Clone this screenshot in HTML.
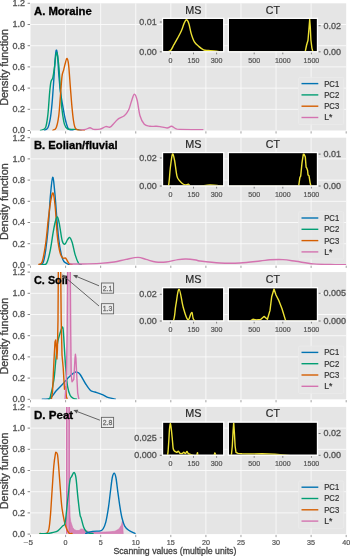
<!DOCTYPE html><html><head><meta charset="utf-8"><style>html,body{margin:0;padding:0;background:#fff;width:350px;height:556px;overflow:hidden;position:relative}</style></head><body><svg width="350" height="556" viewBox="0 0 350 556" style="position:absolute;left:0;top:0;font-family:'Liberation Sans', sans-serif;will-change:transform">
<rect x="0" y="0" width="350" height="556" fill="#ffffff"/>
<defs>
<clipPath id="cp0"><rect x="30.5" y="3.3" width="315.7" height="127.2"/></clipPath>
<clipPath id="ims0"><rect x="163.1" y="18.9" width="60.099999999999994" height="32.300000000000004"/></clipPath>
<clipPath id="ict0"><rect x="228.9" y="18.9" width="87.99999999999997" height="32.300000000000004"/></clipPath>
<clipPath id="cp1"><rect x="30.5" y="137.7" width="315.7" height="127.2"/></clipPath>
<clipPath id="ims1"><rect x="163.1" y="153.1" width="60.099999999999994" height="32.30000000000001"/></clipPath>
<clipPath id="ict1"><rect x="228.9" y="153.1" width="87.99999999999997" height="32.30000000000001"/></clipPath>
<clipPath id="cp2"><rect x="30.5" y="272.1" width="315.7" height="127.2"/></clipPath>
<clipPath id="ims2"><rect x="163.1" y="288.2" width="60.099999999999994" height="32.19999999999999"/></clipPath>
<clipPath id="ict2"><rect x="228.9" y="288.2" width="87.99999999999997" height="32.19999999999999"/></clipPath>
<clipPath id="cp3"><rect x="30.5" y="406.9" width="315.7" height="127.2"/></clipPath>
<clipPath id="ims3"><rect x="163.1" y="422.6" width="60.099999999999994" height="32.099999999999966"/></clipPath>
<clipPath id="ict3"><rect x="228.9" y="422.6" width="87.99999999999997" height="32.099999999999966"/></clipPath>
</defs>
<rect x="30.5" y="3.30" width="315.70" height="127.2" fill="#e5e5e5"/>
<line x1="30.5" x2="346.2" y1="109.30" y2="109.30" stroke="#fafafa" stroke-width="0.9"/>
<line x1="30.5" x2="346.2" y1="88.10" y2="88.10" stroke="#fafafa" stroke-width="0.9"/>
<line x1="30.5" x2="346.2" y1="66.90" y2="66.90" stroke="#fafafa" stroke-width="0.9"/>
<line x1="30.5" x2="346.2" y1="45.70" y2="45.70" stroke="#fafafa" stroke-width="0.9"/>
<line x1="30.5" x2="346.2" y1="24.50" y2="24.50" stroke="#fafafa" stroke-width="0.9"/>
<line x1="65.60" x2="65.60" y1="3.30" y2="130.50" stroke="#fafafa" stroke-width="0.9"/>
<line x1="100.67" x2="100.67" y1="3.30" y2="130.50" stroke="#fafafa" stroke-width="0.9"/>
<line x1="135.75" x2="135.75" y1="3.30" y2="130.50" stroke="#fafafa" stroke-width="0.9"/>
<line x1="170.82" x2="170.82" y1="3.30" y2="130.50" stroke="#fafafa" stroke-width="0.9"/>
<line x1="205.90" x2="205.90" y1="3.30" y2="130.50" stroke="#fafafa" stroke-width="0.9"/>
<line x1="240.97" x2="240.97" y1="3.30" y2="130.50" stroke="#fafafa" stroke-width="0.9"/>
<line x1="276.05" x2="276.05" y1="3.30" y2="130.50" stroke="#fafafa" stroke-width="0.9"/>
<line x1="311.12" x2="311.12" y1="3.30" y2="130.50" stroke="#fafafa" stroke-width="0.9"/>
<line x1="27.6" x2="30.0" y1="130.50" y2="130.50" stroke="#666666" stroke-width="0.8"/>
<text x="25.00" y="133.40" font-size="8.4" text-anchor="end" fill="#555555" font-weight="normal" stroke="#555555" stroke-width="0.3" textLength="12.56" lengthAdjust="spacingAndGlyphs">0.0</text>
<line x1="27.6" x2="30.0" y1="109.30" y2="109.30" stroke="#666666" stroke-width="0.8"/>
<text x="25.00" y="112.20" font-size="8.4" text-anchor="end" fill="#555555" font-weight="normal" stroke="#555555" stroke-width="0.3" textLength="12.56" lengthAdjust="spacingAndGlyphs">0.2</text>
<line x1="27.6" x2="30.0" y1="88.10" y2="88.10" stroke="#666666" stroke-width="0.8"/>
<text x="25.00" y="91.00" font-size="8.4" text-anchor="end" fill="#555555" font-weight="normal" stroke="#555555" stroke-width="0.3" textLength="12.56" lengthAdjust="spacingAndGlyphs">0.4</text>
<line x1="27.6" x2="30.0" y1="66.90" y2="66.90" stroke="#666666" stroke-width="0.8"/>
<text x="25.00" y="69.80" font-size="8.4" text-anchor="end" fill="#555555" font-weight="normal" stroke="#555555" stroke-width="0.3" textLength="12.56" lengthAdjust="spacingAndGlyphs">0.6</text>
<line x1="27.6" x2="30.0" y1="45.70" y2="45.70" stroke="#666666" stroke-width="0.8"/>
<text x="25.00" y="48.60" font-size="8.4" text-anchor="end" fill="#555555" font-weight="normal" stroke="#555555" stroke-width="0.3" textLength="12.56" lengthAdjust="spacingAndGlyphs">0.8</text>
<line x1="27.6" x2="30.0" y1="24.50" y2="24.50" stroke="#666666" stroke-width="0.8"/>
<text x="25.00" y="27.40" font-size="8.4" text-anchor="end" fill="#555555" font-weight="normal" stroke="#555555" stroke-width="0.3" textLength="12.56" lengthAdjust="spacingAndGlyphs">1.0</text>
<line x1="27.6" x2="30.0" y1="3.30" y2="3.30" stroke="#666666" stroke-width="0.8"/>
<text x="25.00" y="6.20" font-size="8.4" text-anchor="end" fill="#555555" font-weight="normal" stroke="#555555" stroke-width="0.3" textLength="12.56" lengthAdjust="spacingAndGlyphs">1.2</text>
<line x1="30.52" x2="30.52" y1="131.30" y2="133.50" stroke="#888888" stroke-width="0.8"/>
<line x1="65.60" x2="65.60" y1="131.30" y2="133.50" stroke="#888888" stroke-width="0.8"/>
<line x1="100.67" x2="100.67" y1="131.30" y2="133.50" stroke="#888888" stroke-width="0.8"/>
<line x1="135.75" x2="135.75" y1="131.30" y2="133.50" stroke="#888888" stroke-width="0.8"/>
<line x1="170.82" x2="170.82" y1="131.30" y2="133.50" stroke="#888888" stroke-width="0.8"/>
<line x1="205.90" x2="205.90" y1="131.30" y2="133.50" stroke="#888888" stroke-width="0.8"/>
<line x1="240.97" x2="240.97" y1="131.30" y2="133.50" stroke="#888888" stroke-width="0.8"/>
<line x1="276.05" x2="276.05" y1="131.30" y2="133.50" stroke="#888888" stroke-width="0.8"/>
<line x1="311.12" x2="311.12" y1="131.30" y2="133.50" stroke="#888888" stroke-width="0.8"/>
<line x1="346.20" x2="346.20" y1="131.30" y2="133.50" stroke="#888888" stroke-width="0.8"/>
<text x="0" y="0" font-size="11" text-anchor="middle" fill="#444444" stroke="#444444" stroke-width="0.35" transform="translate(7.7,67.30) rotate(-90)" textLength="76.8" lengthAdjust="spacingAndGlyphs">Density function</text>
<path d="M44.60,130.30 C45.15,129.87 46.93,129.78 47.90,127.70 C48.87,125.62 49.70,121.93 50.40,117.80 C51.10,113.67 51.55,108.97 52.10,102.90 C52.65,96.83 53.20,88.57 53.70,81.40 C54.20,74.23 54.68,65.08 55.10,59.90 C55.52,54.72 55.80,51.13 56.20,50.30 C56.60,49.47 57.08,51.10 57.50,54.90 C57.92,58.70 58.22,67.03 58.70,73.10 C59.18,79.17 59.72,85.78 60.40,91.30 C61.08,96.82 61.98,101.50 62.80,106.20 C63.62,110.90 64.47,115.92 65.30,119.50 C66.13,123.08 66.97,125.92 67.80,127.70 C68.63,129.48 69.43,129.77 70.30,130.20 C71.17,130.63 72.55,130.28 73.00,130.30" fill="none" stroke="#0173b2" stroke-width="1.4" stroke-linejoin="round" stroke-linecap="round" clip-path="url(#cp0)"/>
<path d="M40.50,130.30 C41.33,129.87 44.27,130.33 45.50,127.70 C46.73,125.07 47.22,120.28 47.90,114.50 C48.58,108.72 49.10,98.38 49.60,93.00 C50.10,87.62 50.35,84.82 50.90,82.20 C51.45,79.58 52.28,79.92 52.90,77.30 C53.52,74.68 54.00,70.65 54.60,66.50 C55.20,62.35 55.82,52.68 56.50,52.40 C57.18,52.12 58.05,58.58 58.70,64.80 C59.35,71.02 59.85,82.25 60.40,89.70 C60.95,97.15 61.32,103.72 62.00,109.50 C62.68,115.28 63.53,121.15 64.50,124.40 C65.47,127.65 65.87,128.17 67.80,129.00 C69.73,129.83 73.90,129.18 76.10,129.40 C78.30,129.62 80.18,130.15 81.00,130.30" fill="none" stroke="#029e73" stroke-width="1.4" stroke-linejoin="round" stroke-linecap="round" clip-path="url(#cp0)"/>
<path d="M52.90,130.30 C53.45,129.87 55.23,130.05 56.20,127.70 C57.17,125.35 58.00,121.43 58.70,116.20 C59.40,110.97 59.85,102.93 60.40,96.30 C60.95,89.67 61.45,80.82 62.00,76.40 C62.55,71.98 63.15,72.00 63.70,69.80 C64.25,67.60 64.75,65.08 65.30,63.20 C65.85,61.32 66.45,58.23 67.00,58.50 C67.55,58.77 68.05,60.15 68.60,64.80 C69.15,69.45 69.75,79.50 70.30,86.40 C70.85,93.30 71.38,100.60 71.90,106.20 C72.42,111.80 72.92,116.53 73.40,120.00 C73.88,123.47 74.23,125.38 74.80,127.00 C75.37,128.62 75.93,129.15 76.80,129.70 C77.67,130.25 78.73,130.17 80.00,130.30 C81.27,130.43 83.67,130.47 84.40,130.50" fill="none" stroke="#d55e00" stroke-width="1.4" stroke-linejoin="round" stroke-linecap="round" clip-path="url(#cp0)"/>
<path d="M80.00,130.10 C80.95,129.98 84.03,129.80 85.70,129.40 C87.37,129.00 88.67,127.70 90.00,127.70 C91.33,127.70 92.03,129.17 93.70,129.40 C95.37,129.63 98.00,129.57 100.00,129.10 C102.00,128.63 104.03,126.93 105.70,126.60 C107.37,126.27 108.57,127.72 110.00,127.10 C111.43,126.48 112.87,124.32 114.30,122.90 C115.73,121.48 116.93,119.80 118.60,118.60 C120.27,117.40 122.63,117.13 124.30,115.70 C125.97,114.27 127.42,112.38 128.60,110.00 C129.78,107.62 130.45,104.02 131.40,101.40 C132.35,98.78 133.35,94.53 134.30,94.30 C135.25,94.07 136.15,96.43 137.10,100.00 C138.05,103.57 138.80,111.65 140.00,115.70 C141.20,119.75 142.63,122.53 144.30,124.30 C145.97,126.07 148.10,125.97 150.00,126.30 C151.90,126.63 154.03,126.25 155.70,126.30 C157.37,126.35 158.10,126.32 160.00,126.60 C161.90,126.88 165.20,128.05 167.10,128.00 C169.00,127.95 169.97,126.20 171.40,126.30 C172.83,126.40 174.27,128.08 175.70,128.60 C177.13,129.12 175.47,129.23 180.00,129.40 C184.53,129.57 199.08,129.57 202.90,129.60" fill="none" stroke="#d473b0" stroke-width="1.4" stroke-linejoin="round" stroke-linecap="round" clip-path="url(#cp0)"/>
<text x="34.00" y="15.20" font-size="10.2" text-anchor="start" fill="#000000" font-weight="bold" stroke="#000000" stroke-width="0.3" textLength="57.80" lengthAdjust="spacingAndGlyphs">A. Moraine</text>
<rect x="298.5" y="77.30" width="45.3" height="47.4" rx="1.5" fill="#e6e6e6" fill-opacity="0.85" stroke="#ededed" stroke-width="0.7"/>
<line x1="301.5" x2="318.3" y1="83.60" y2="83.60" stroke="#0173b2" stroke-width="1.4"/>
<text x="324.20" y="86.50" font-size="8.2" text-anchor="start" fill="#333333" font-weight="normal" stroke="#333333" stroke-width="0.2" textLength="15.00" lengthAdjust="spacingAndGlyphs">PC1</text>
<line x1="301.5" x2="318.3" y1="94.90" y2="94.90" stroke="#029e73" stroke-width="1.4"/>
<text x="324.20" y="97.80" font-size="8.2" text-anchor="start" fill="#333333" font-weight="normal" stroke="#333333" stroke-width="0.2" textLength="15.00" lengthAdjust="spacingAndGlyphs">PC2</text>
<line x1="301.5" x2="318.3" y1="106.20" y2="106.20" stroke="#d55e00" stroke-width="1.4"/>
<text x="324.20" y="109.10" font-size="8.2" text-anchor="start" fill="#333333" font-weight="normal" stroke="#333333" stroke-width="0.2" textLength="15.00" lengthAdjust="spacingAndGlyphs">PC3</text>
<line x1="301.5" x2="318.3" y1="117.50" y2="117.50" stroke="#d473b0" stroke-width="1.4"/>
<text x="324.20" y="120.40" font-size="8.2" text-anchor="start" fill="#333333" font-weight="normal" stroke="#333333" stroke-width="0.2" textLength="8.20" lengthAdjust="spacingAndGlyphs">L*</text>
<rect x="163.10" y="18.90" width="60.10" height="32.30" fill="#000000"/>
<rect x="228.90" y="18.90" width="88.00" height="32.30" fill="#000000"/>
<path d="M164.00,52.20 C165.03,51.98 168.55,52.15 170.20,50.90 C171.85,49.65 172.67,46.82 173.90,44.70 C175.13,42.58 176.35,40.52 177.60,38.20 C178.85,35.88 180.32,33.27 181.40,30.80 C182.48,28.33 183.27,25.23 184.10,23.40 C184.93,21.57 185.62,19.80 186.40,19.80 C187.18,19.80 188.00,21.10 188.80,23.40 C189.60,25.70 190.27,30.52 191.20,33.60 C192.13,36.68 193.10,39.73 194.40,41.90 C195.70,44.07 197.47,45.27 199.00,46.60 C200.53,47.93 202.05,49.25 203.60,49.90 C205.15,50.55 206.58,50.33 208.30,50.50 C210.02,50.67 211.62,50.62 213.90,50.90 C216.18,51.18 220.65,51.98 222.00,52.20" fill="none" stroke="#ece133" stroke-width="1.4" stroke-linejoin="round" stroke-linecap="round" clip-path="url(#ims0)"/>
<polyline points="229.00,52.20 304.00,52.20 305.10,52.20 306.60,45.00 308.00,40.20 309.10,27.00 309.70,19.50 310.30,27.00 310.90,40.00 311.90,48.10 313.00,52.20 314.00,52.20 317.00,52.20" fill="none" stroke="#ece133" stroke-width="1.4" stroke-linejoin="round" clip-path="url(#ict0)"/>
<rect x="162.50" y="18.30" width="61.30" height="33.50" fill="none" stroke="#ffffff" stroke-width="1.2"/>
<rect x="228.30" y="18.30" width="89.20" height="33.50" fill="none" stroke="#ffffff" stroke-width="1.2"/>
<text x="193.40" y="13.60" font-size="11.4" text-anchor="middle" fill="#262626" font-weight="normal" stroke="#262626" stroke-width="0.2" textLength="16.20" lengthAdjust="spacingAndGlyphs">MS</text>
<text x="272.90" y="13.60" font-size="11.4" text-anchor="middle" fill="#262626" font-weight="normal" stroke="#262626" stroke-width="0.2" textLength="14.10" lengthAdjust="spacingAndGlyphs">CT</text>
<line x1="159.8" x2="161.8" y1="22.00" y2="22.00" stroke="#555555" stroke-width="0.8"/>
<text x="156.80" y="24.90" font-size="8.4" text-anchor="end" fill="#555555" font-weight="normal" stroke="#555555" stroke-width="0.3" textLength="17.57" lengthAdjust="spacingAndGlyphs">0.01</text>
<line x1="159.8" x2="161.8" y1="51.80" y2="51.80" stroke="#555555" stroke-width="0.8"/>
<text x="156.80" y="54.70" font-size="8.4" text-anchor="end" fill="#555555" font-weight="normal" stroke="#555555" stroke-width="0.3" textLength="17.57" lengthAdjust="spacingAndGlyphs">0.00</text>
<line x1="318.6" x2="320.6" y1="25.70" y2="25.70" stroke="#555555" stroke-width="0.8"/>
<text x="323.50" y="28.60" font-size="8.4" text-anchor="start" fill="#555555" font-weight="normal" stroke="#555555" stroke-width="0.3" textLength="17.57" lengthAdjust="spacingAndGlyphs">0.02</text>
<line x1="318.6" x2="320.6" y1="51.80" y2="51.80" stroke="#555555" stroke-width="0.8"/>
<text x="323.50" y="54.70" font-size="8.4" text-anchor="start" fill="#555555" font-weight="normal" stroke="#555555" stroke-width="0.3" textLength="17.57" lengthAdjust="spacingAndGlyphs">0.00</text>
<line x1="170.40" x2="170.40" y1="52.60" y2="54.30" stroke="#555555" stroke-width="0.7"/>
<text x="170.40" y="62.90" font-size="6.6" text-anchor="middle" fill="#555555" font-weight="normal" stroke="#555555" stroke-width="0.2" textLength="3.94" lengthAdjust="spacingAndGlyphs">0</text>
<line x1="193.50" x2="193.50" y1="52.60" y2="54.30" stroke="#555555" stroke-width="0.7"/>
<text x="193.50" y="62.90" font-size="6.6" text-anchor="middle" fill="#555555" font-weight="normal" stroke="#555555" stroke-width="0.2" textLength="11.82" lengthAdjust="spacingAndGlyphs">150</text>
<line x1="216.60" x2="216.60" y1="52.60" y2="54.30" stroke="#555555" stroke-width="0.7"/>
<text x="216.60" y="62.90" font-size="6.6" text-anchor="middle" fill="#555555" font-weight="normal" stroke="#555555" stroke-width="0.2" textLength="11.82" lengthAdjust="spacingAndGlyphs">300</text>
<line x1="254.20" x2="254.20" y1="52.60" y2="54.30" stroke="#555555" stroke-width="0.7"/>
<text x="254.20" y="62.90" font-size="6.6" text-anchor="middle" fill="#555555" font-weight="normal" stroke="#555555" stroke-width="0.2" textLength="11.82" lengthAdjust="spacingAndGlyphs">500</text>
<line x1="282.80" x2="282.80" y1="52.60" y2="54.30" stroke="#555555" stroke-width="0.7"/>
<text x="282.80" y="62.90" font-size="6.6" text-anchor="middle" fill="#555555" font-weight="normal" stroke="#555555" stroke-width="0.2" textLength="15.76" lengthAdjust="spacingAndGlyphs">1000</text>
<line x1="311.40" x2="311.40" y1="52.60" y2="54.30" stroke="#555555" stroke-width="0.7"/>
<text x="311.40" y="62.90" font-size="6.6" text-anchor="middle" fill="#555555" font-weight="normal" stroke="#555555" stroke-width="0.2" textLength="15.76" lengthAdjust="spacingAndGlyphs">1500</text>
<rect x="30.5" y="137.70" width="315.70" height="127.2" fill="#e5e5e5"/>
<line x1="30.5" x2="346.2" y1="243.70" y2="243.70" stroke="#fafafa" stroke-width="0.9"/>
<line x1="30.5" x2="346.2" y1="222.50" y2="222.50" stroke="#fafafa" stroke-width="0.9"/>
<line x1="30.5" x2="346.2" y1="201.30" y2="201.30" stroke="#fafafa" stroke-width="0.9"/>
<line x1="30.5" x2="346.2" y1="180.10" y2="180.10" stroke="#fafafa" stroke-width="0.9"/>
<line x1="30.5" x2="346.2" y1="158.90" y2="158.90" stroke="#fafafa" stroke-width="0.9"/>
<line x1="65.60" x2="65.60" y1="137.70" y2="264.90" stroke="#fafafa" stroke-width="0.9"/>
<line x1="100.67" x2="100.67" y1="137.70" y2="264.90" stroke="#fafafa" stroke-width="0.9"/>
<line x1="135.75" x2="135.75" y1="137.70" y2="264.90" stroke="#fafafa" stroke-width="0.9"/>
<line x1="170.82" x2="170.82" y1="137.70" y2="264.90" stroke="#fafafa" stroke-width="0.9"/>
<line x1="205.90" x2="205.90" y1="137.70" y2="264.90" stroke="#fafafa" stroke-width="0.9"/>
<line x1="240.97" x2="240.97" y1="137.70" y2="264.90" stroke="#fafafa" stroke-width="0.9"/>
<line x1="276.05" x2="276.05" y1="137.70" y2="264.90" stroke="#fafafa" stroke-width="0.9"/>
<line x1="311.12" x2="311.12" y1="137.70" y2="264.90" stroke="#fafafa" stroke-width="0.9"/>
<line x1="27.6" x2="30.0" y1="264.90" y2="264.90" stroke="#666666" stroke-width="0.8"/>
<text x="25.00" y="267.80" font-size="8.4" text-anchor="end" fill="#555555" font-weight="normal" stroke="#555555" stroke-width="0.3" textLength="12.56" lengthAdjust="spacingAndGlyphs">0.0</text>
<line x1="27.6" x2="30.0" y1="243.70" y2="243.70" stroke="#666666" stroke-width="0.8"/>
<text x="25.00" y="246.60" font-size="8.4" text-anchor="end" fill="#555555" font-weight="normal" stroke="#555555" stroke-width="0.3" textLength="12.56" lengthAdjust="spacingAndGlyphs">0.2</text>
<line x1="27.6" x2="30.0" y1="222.50" y2="222.50" stroke="#666666" stroke-width="0.8"/>
<text x="25.00" y="225.40" font-size="8.4" text-anchor="end" fill="#555555" font-weight="normal" stroke="#555555" stroke-width="0.3" textLength="12.56" lengthAdjust="spacingAndGlyphs">0.4</text>
<line x1="27.6" x2="30.0" y1="201.30" y2="201.30" stroke="#666666" stroke-width="0.8"/>
<text x="25.00" y="204.20" font-size="8.4" text-anchor="end" fill="#555555" font-weight="normal" stroke="#555555" stroke-width="0.3" textLength="12.56" lengthAdjust="spacingAndGlyphs">0.6</text>
<line x1="27.6" x2="30.0" y1="180.10" y2="180.10" stroke="#666666" stroke-width="0.8"/>
<text x="25.00" y="183.00" font-size="8.4" text-anchor="end" fill="#555555" font-weight="normal" stroke="#555555" stroke-width="0.3" textLength="12.56" lengthAdjust="spacingAndGlyphs">0.8</text>
<line x1="27.6" x2="30.0" y1="158.90" y2="158.90" stroke="#666666" stroke-width="0.8"/>
<text x="25.00" y="161.80" font-size="8.4" text-anchor="end" fill="#555555" font-weight="normal" stroke="#555555" stroke-width="0.3" textLength="12.56" lengthAdjust="spacingAndGlyphs">1.0</text>
<line x1="27.6" x2="30.0" y1="137.70" y2="137.70" stroke="#666666" stroke-width="0.8"/>
<text x="25.00" y="140.60" font-size="8.4" text-anchor="end" fill="#555555" font-weight="normal" stroke="#555555" stroke-width="0.3" textLength="12.56" lengthAdjust="spacingAndGlyphs">1.2</text>
<line x1="30.52" x2="30.52" y1="265.70" y2="267.90" stroke="#888888" stroke-width="0.8"/>
<line x1="65.60" x2="65.60" y1="265.70" y2="267.90" stroke="#888888" stroke-width="0.8"/>
<line x1="100.67" x2="100.67" y1="265.70" y2="267.90" stroke="#888888" stroke-width="0.8"/>
<line x1="135.75" x2="135.75" y1="265.70" y2="267.90" stroke="#888888" stroke-width="0.8"/>
<line x1="170.82" x2="170.82" y1="265.70" y2="267.90" stroke="#888888" stroke-width="0.8"/>
<line x1="205.90" x2="205.90" y1="265.70" y2="267.90" stroke="#888888" stroke-width="0.8"/>
<line x1="240.97" x2="240.97" y1="265.70" y2="267.90" stroke="#888888" stroke-width="0.8"/>
<line x1="276.05" x2="276.05" y1="265.70" y2="267.90" stroke="#888888" stroke-width="0.8"/>
<line x1="311.12" x2="311.12" y1="265.70" y2="267.90" stroke="#888888" stroke-width="0.8"/>
<line x1="346.20" x2="346.20" y1="265.70" y2="267.90" stroke="#888888" stroke-width="0.8"/>
<text x="0" y="0" font-size="11" text-anchor="middle" fill="#444444" stroke="#444444" stroke-width="0.35" transform="translate(7.7,201.70) rotate(-90)" textLength="76.8" lengthAdjust="spacingAndGlyphs">Density function</text>
<path d="M39.70,264.70 C40.28,264.32 42.18,264.95 43.20,262.40 C44.22,259.85 44.93,255.58 45.80,249.40 C46.67,243.22 47.63,234.22 48.40,225.30 C49.17,216.38 49.68,203.90 50.40,195.90 C51.12,187.90 51.97,177.87 52.70,177.30 C53.43,176.73 54.13,185.95 54.80,192.50 C55.47,199.05 56.05,208.83 56.70,216.60 C57.35,224.37 57.93,232.77 58.70,239.10 C59.47,245.43 60.43,250.87 61.30,254.60 C62.17,258.33 62.75,259.92 63.90,261.50 C65.05,263.08 67.02,263.58 68.20,264.10 C69.38,264.62 70.53,264.52 71.00,264.60" fill="none" stroke="#0173b2" stroke-width="1.4" stroke-linejoin="round" stroke-linecap="round" clip-path="url(#cp1)"/>
<path d="M38.90,264.30 C39.47,263.83 41.15,265.13 42.30,261.50 C43.45,257.87 44.78,249.68 45.80,242.50 C46.82,235.32 47.53,225.58 48.40,218.40 C49.27,211.22 50.20,203.58 51.00,199.40 C51.80,195.22 52.48,191.87 53.20,193.30 C53.92,194.73 54.62,200.95 55.30,208.00 C55.98,215.05 56.50,228.12 57.30,235.60 C58.10,243.08 59.15,249.15 60.10,252.90 C61.05,256.65 62.08,257.23 63.00,258.10 C63.92,258.97 64.73,257.38 65.60,258.10 C66.47,258.82 67.47,261.40 68.20,262.40 C68.93,263.40 69.37,263.73 70.00,264.10 C70.63,264.47 71.67,264.52 72.00,264.60" fill="none" stroke="#d55e00" stroke-width="1.4" stroke-linejoin="round" stroke-linecap="round" clip-path="url(#cp1)"/>
<path d="M42.30,264.70 C43.02,264.47 45.30,265.55 46.60,263.30 C47.90,261.05 49.00,256.38 50.10,251.20 C51.20,246.02 52.33,237.10 53.20,232.20 C54.07,227.30 54.58,224.33 55.30,221.80 C56.02,219.27 56.78,216.42 57.50,217.00 C58.22,217.58 58.82,221.33 59.60,225.30 C60.38,229.27 61.33,237.63 62.20,240.80 C63.07,243.97 63.93,244.45 64.80,244.30 C65.67,244.15 66.60,241.05 67.40,239.90 C68.20,238.75 68.80,236.97 69.60,237.40 C70.40,237.83 71.28,239.63 72.20,242.50 C73.12,245.37 74.03,251.13 75.10,254.60 C76.17,258.07 77.58,261.62 78.60,263.30 C79.62,264.98 80.77,264.47 81.20,264.70" fill="none" stroke="#029e73" stroke-width="1.4" stroke-linejoin="round" stroke-linecap="round" clip-path="url(#cp1)"/>
<path d="M70.00,264.00 C72.00,264.00 77.00,264.10 82.00,264.00 C87.00,263.90 94.67,263.73 100.00,263.40 C105.33,263.07 109.67,262.67 114.00,262.00 C118.33,261.33 122.00,260.17 126.00,259.40 C130.00,258.63 134.67,257.40 138.00,257.40 C141.33,257.40 143.00,258.63 146.00,259.40 C149.00,260.17 152.67,261.57 156.00,262.00 C159.33,262.43 162.33,262.40 166.00,262.00 C169.67,261.60 174.67,260.10 178.00,259.60 C181.33,259.10 183.00,258.93 186.00,259.00 C189.00,259.07 193.67,259.67 196.00,260.00 C198.33,260.33 196.00,260.50 200.00,261.00 C204.00,261.50 213.33,262.67 220.00,263.00 C226.67,263.33 233.33,263.33 240.00,263.00 C246.67,262.67 255.00,261.53 260.00,261.00 C265.00,260.47 266.17,260.03 270.00,259.80 C273.83,259.57 278.67,259.35 283.00,259.60 C287.33,259.85 290.92,260.58 296.00,261.30 C301.08,262.02 307.00,263.35 313.50,263.90 C320.00,264.45 329.58,264.47 335.00,264.60 C340.42,264.73 344.17,264.68 346.00,264.70" fill="none" stroke="#d473b0" stroke-width="1.4" stroke-linejoin="round" stroke-linecap="round" clip-path="url(#cp1)"/>
<text x="34.00" y="149.30" font-size="10.2" text-anchor="start" fill="#000000" font-weight="bold" stroke="#000000" stroke-width="0.3" textLength="83.60" lengthAdjust="spacingAndGlyphs">B. Eolian/fluvial</text>
<rect x="298.5" y="211.70" width="45.3" height="47.4" rx="1.5" fill="#e6e6e6" fill-opacity="0.85" stroke="#ededed" stroke-width="0.7"/>
<line x1="301.5" x2="318.3" y1="218.00" y2="218.00" stroke="#0173b2" stroke-width="1.4"/>
<text x="324.20" y="220.90" font-size="8.2" text-anchor="start" fill="#333333" font-weight="normal" stroke="#333333" stroke-width="0.2" textLength="15.00" lengthAdjust="spacingAndGlyphs">PC1</text>
<line x1="301.5" x2="318.3" y1="229.30" y2="229.30" stroke="#029e73" stroke-width="1.4"/>
<text x="324.20" y="232.20" font-size="8.2" text-anchor="start" fill="#333333" font-weight="normal" stroke="#333333" stroke-width="0.2" textLength="15.00" lengthAdjust="spacingAndGlyphs">PC2</text>
<line x1="301.5" x2="318.3" y1="240.60" y2="240.60" stroke="#d55e00" stroke-width="1.4"/>
<text x="324.20" y="243.50" font-size="8.2" text-anchor="start" fill="#333333" font-weight="normal" stroke="#333333" stroke-width="0.2" textLength="15.00" lengthAdjust="spacingAndGlyphs">PC3</text>
<line x1="301.5" x2="318.3" y1="251.90" y2="251.90" stroke="#d473b0" stroke-width="1.4"/>
<text x="324.20" y="254.80" font-size="8.2" text-anchor="start" fill="#333333" font-weight="normal" stroke="#333333" stroke-width="0.2" textLength="8.20" lengthAdjust="spacingAndGlyphs">L*</text>
<rect x="163.10" y="153.10" width="60.10" height="32.30" fill="#000000"/>
<rect x="228.90" y="153.10" width="88.00" height="32.30" fill="#000000"/>
<path d="M164.00,186.40 C164.72,186.40 167.25,189.47 168.30,186.40 C169.35,183.33 169.62,173.35 170.30,168.00 C170.98,162.65 171.70,155.63 172.40,154.30 C173.10,152.97 173.75,156.42 174.50,160.00 C175.25,163.58 176.10,172.40 176.90,175.80 C177.70,179.20 178.40,179.12 179.30,180.40 C180.20,181.68 181.28,182.75 182.30,183.50 C183.32,184.25 184.37,184.78 185.40,184.90 C186.43,185.02 187.57,183.95 188.50,184.20 C189.43,184.45 189.08,186.03 191.00,186.40 C192.92,186.77 196.83,186.63 200.00,186.40 C203.17,186.17 206.17,185.00 210.00,185.00 C213.83,185.00 220.83,186.17 223.00,186.40" fill="none" stroke="#ece133" stroke-width="1.4" stroke-linejoin="round" stroke-linecap="round" clip-path="url(#ims1)"/>
<polyline points="229.00,186.40 298.60,186.40 299.90,177.40 300.70,176.10 302.00,162.90 303.30,154.30 304.10,154.30 305.30,156.90 306.10,167.10 306.70,168.00 307.60,170.60 308.00,174.90 309.00,175.70 310.10,182.60 311.00,186.40 317.00,186.40" fill="none" stroke="#ece133" stroke-width="1.4" stroke-linejoin="round" clip-path="url(#ict1)"/>
<rect x="162.50" y="152.50" width="61.30" height="33.50" fill="none" stroke="#ffffff" stroke-width="1.2"/>
<rect x="228.30" y="152.50" width="89.20" height="33.50" fill="none" stroke="#ffffff" stroke-width="1.2"/>
<text x="193.40" y="147.80" font-size="11.4" text-anchor="middle" fill="#262626" font-weight="normal" stroke="#262626" stroke-width="0.2" textLength="16.20" lengthAdjust="spacingAndGlyphs">MS</text>
<text x="272.90" y="147.80" font-size="11.4" text-anchor="middle" fill="#262626" font-weight="normal" stroke="#262626" stroke-width="0.2" textLength="14.10" lengthAdjust="spacingAndGlyphs">CT</text>
<line x1="159.8" x2="161.8" y1="158.00" y2="158.00" stroke="#555555" stroke-width="0.8"/>
<text x="156.80" y="160.90" font-size="8.4" text-anchor="end" fill="#555555" font-weight="normal" stroke="#555555" stroke-width="0.3" textLength="17.57" lengthAdjust="spacingAndGlyphs">0.02</text>
<line x1="159.8" x2="161.8" y1="186.00" y2="186.00" stroke="#555555" stroke-width="0.8"/>
<text x="156.80" y="188.90" font-size="8.4" text-anchor="end" fill="#555555" font-weight="normal" stroke="#555555" stroke-width="0.3" textLength="17.57" lengthAdjust="spacingAndGlyphs">0.00</text>
<line x1="318.6" x2="320.6" y1="154.10" y2="154.10" stroke="#555555" stroke-width="0.8"/>
<text x="323.50" y="157.00" font-size="8.4" text-anchor="start" fill="#555555" font-weight="normal" stroke="#555555" stroke-width="0.3" textLength="17.57" lengthAdjust="spacingAndGlyphs">0.01</text>
<line x1="318.6" x2="320.6" y1="186.00" y2="186.00" stroke="#555555" stroke-width="0.8"/>
<text x="323.50" y="188.90" font-size="8.4" text-anchor="start" fill="#555555" font-weight="normal" stroke="#555555" stroke-width="0.3" textLength="17.57" lengthAdjust="spacingAndGlyphs">0.00</text>
<line x1="170.40" x2="170.40" y1="186.80" y2="188.50" stroke="#555555" stroke-width="0.7"/>
<text x="170.40" y="197.10" font-size="6.6" text-anchor="middle" fill="#555555" font-weight="normal" stroke="#555555" stroke-width="0.2" textLength="3.94" lengthAdjust="spacingAndGlyphs">0</text>
<line x1="193.50" x2="193.50" y1="186.80" y2="188.50" stroke="#555555" stroke-width="0.7"/>
<text x="193.50" y="197.10" font-size="6.6" text-anchor="middle" fill="#555555" font-weight="normal" stroke="#555555" stroke-width="0.2" textLength="11.82" lengthAdjust="spacingAndGlyphs">150</text>
<line x1="216.60" x2="216.60" y1="186.80" y2="188.50" stroke="#555555" stroke-width="0.7"/>
<text x="216.60" y="197.10" font-size="6.6" text-anchor="middle" fill="#555555" font-weight="normal" stroke="#555555" stroke-width="0.2" textLength="11.82" lengthAdjust="spacingAndGlyphs">300</text>
<line x1="254.20" x2="254.20" y1="186.80" y2="188.50" stroke="#555555" stroke-width="0.7"/>
<text x="254.20" y="197.10" font-size="6.6" text-anchor="middle" fill="#555555" font-weight="normal" stroke="#555555" stroke-width="0.2" textLength="11.82" lengthAdjust="spacingAndGlyphs">500</text>
<line x1="282.80" x2="282.80" y1="186.80" y2="188.50" stroke="#555555" stroke-width="0.7"/>
<text x="282.80" y="197.10" font-size="6.6" text-anchor="middle" fill="#555555" font-weight="normal" stroke="#555555" stroke-width="0.2" textLength="15.76" lengthAdjust="spacingAndGlyphs">1000</text>
<line x1="311.40" x2="311.40" y1="186.80" y2="188.50" stroke="#555555" stroke-width="0.7"/>
<text x="311.40" y="197.10" font-size="6.6" text-anchor="middle" fill="#555555" font-weight="normal" stroke="#555555" stroke-width="0.2" textLength="15.76" lengthAdjust="spacingAndGlyphs">1500</text>
<rect x="30.5" y="272.10" width="315.70" height="127.2" fill="#e5e5e5"/>
<line x1="30.5" x2="346.2" y1="378.10" y2="378.10" stroke="#fafafa" stroke-width="0.9"/>
<line x1="30.5" x2="346.2" y1="356.90" y2="356.90" stroke="#fafafa" stroke-width="0.9"/>
<line x1="30.5" x2="346.2" y1="335.70" y2="335.70" stroke="#fafafa" stroke-width="0.9"/>
<line x1="30.5" x2="346.2" y1="314.50" y2="314.50" stroke="#fafafa" stroke-width="0.9"/>
<line x1="30.5" x2="346.2" y1="293.30" y2="293.30" stroke="#fafafa" stroke-width="0.9"/>
<line x1="65.60" x2="65.60" y1="272.10" y2="399.30" stroke="#fafafa" stroke-width="0.9"/>
<line x1="100.67" x2="100.67" y1="272.10" y2="399.30" stroke="#fafafa" stroke-width="0.9"/>
<line x1="135.75" x2="135.75" y1="272.10" y2="399.30" stroke="#fafafa" stroke-width="0.9"/>
<line x1="170.82" x2="170.82" y1="272.10" y2="399.30" stroke="#fafafa" stroke-width="0.9"/>
<line x1="205.90" x2="205.90" y1="272.10" y2="399.30" stroke="#fafafa" stroke-width="0.9"/>
<line x1="240.97" x2="240.97" y1="272.10" y2="399.30" stroke="#fafafa" stroke-width="0.9"/>
<line x1="276.05" x2="276.05" y1="272.10" y2="399.30" stroke="#fafafa" stroke-width="0.9"/>
<line x1="311.12" x2="311.12" y1="272.10" y2="399.30" stroke="#fafafa" stroke-width="0.9"/>
<line x1="27.6" x2="30.0" y1="399.30" y2="399.30" stroke="#666666" stroke-width="0.8"/>
<text x="25.00" y="402.20" font-size="8.4" text-anchor="end" fill="#555555" font-weight="normal" stroke="#555555" stroke-width="0.3" textLength="12.56" lengthAdjust="spacingAndGlyphs">0.0</text>
<line x1="27.6" x2="30.0" y1="378.10" y2="378.10" stroke="#666666" stroke-width="0.8"/>
<text x="25.00" y="381.00" font-size="8.4" text-anchor="end" fill="#555555" font-weight="normal" stroke="#555555" stroke-width="0.3" textLength="12.56" lengthAdjust="spacingAndGlyphs">0.2</text>
<line x1="27.6" x2="30.0" y1="356.90" y2="356.90" stroke="#666666" stroke-width="0.8"/>
<text x="25.00" y="359.80" font-size="8.4" text-anchor="end" fill="#555555" font-weight="normal" stroke="#555555" stroke-width="0.3" textLength="12.56" lengthAdjust="spacingAndGlyphs">0.4</text>
<line x1="27.6" x2="30.0" y1="335.70" y2="335.70" stroke="#666666" stroke-width="0.8"/>
<text x="25.00" y="338.60" font-size="8.4" text-anchor="end" fill="#555555" font-weight="normal" stroke="#555555" stroke-width="0.3" textLength="12.56" lengthAdjust="spacingAndGlyphs">0.6</text>
<line x1="27.6" x2="30.0" y1="314.50" y2="314.50" stroke="#666666" stroke-width="0.8"/>
<text x="25.00" y="317.40" font-size="8.4" text-anchor="end" fill="#555555" font-weight="normal" stroke="#555555" stroke-width="0.3" textLength="12.56" lengthAdjust="spacingAndGlyphs">0.8</text>
<line x1="27.6" x2="30.0" y1="293.30" y2="293.30" stroke="#666666" stroke-width="0.8"/>
<text x="25.00" y="296.20" font-size="8.4" text-anchor="end" fill="#555555" font-weight="normal" stroke="#555555" stroke-width="0.3" textLength="12.56" lengthAdjust="spacingAndGlyphs">1.0</text>
<line x1="27.6" x2="30.0" y1="272.10" y2="272.10" stroke="#666666" stroke-width="0.8"/>
<text x="25.00" y="275.00" font-size="8.4" text-anchor="end" fill="#555555" font-weight="normal" stroke="#555555" stroke-width="0.3" textLength="12.56" lengthAdjust="spacingAndGlyphs">1.2</text>
<line x1="30.52" x2="30.52" y1="400.10" y2="402.30" stroke="#888888" stroke-width="0.8"/>
<line x1="65.60" x2="65.60" y1="400.10" y2="402.30" stroke="#888888" stroke-width="0.8"/>
<line x1="100.67" x2="100.67" y1="400.10" y2="402.30" stroke="#888888" stroke-width="0.8"/>
<line x1="135.75" x2="135.75" y1="400.10" y2="402.30" stroke="#888888" stroke-width="0.8"/>
<line x1="170.82" x2="170.82" y1="400.10" y2="402.30" stroke="#888888" stroke-width="0.8"/>
<line x1="205.90" x2="205.90" y1="400.10" y2="402.30" stroke="#888888" stroke-width="0.8"/>
<line x1="240.97" x2="240.97" y1="400.10" y2="402.30" stroke="#888888" stroke-width="0.8"/>
<line x1="276.05" x2="276.05" y1="400.10" y2="402.30" stroke="#888888" stroke-width="0.8"/>
<line x1="311.12" x2="311.12" y1="400.10" y2="402.30" stroke="#888888" stroke-width="0.8"/>
<line x1="346.20" x2="346.20" y1="400.10" y2="402.30" stroke="#888888" stroke-width="0.8"/>
<text x="0" y="0" font-size="11" text-anchor="middle" fill="#444444" stroke="#444444" stroke-width="0.35" transform="translate(7.7,336.10) rotate(-90)" textLength="76.8" lengthAdjust="spacingAndGlyphs">Density function</text>
<path d="M42.30,399.10 C43.58,398.98 47.72,399.75 50.00,398.40 C52.28,397.05 53.90,393.37 56.00,391.00 C58.10,388.63 60.43,386.53 62.60,384.20 C64.77,381.87 66.90,379.00 69.00,377.00 C71.10,375.00 73.70,372.93 75.20,372.20 C76.70,371.47 77.12,372.13 78.00,372.60 C78.88,373.07 79.22,373.10 80.50,375.00 C81.78,376.90 84.03,381.42 85.70,384.00 C87.37,386.58 88.97,389.17 90.50,390.50 C92.03,391.83 93.03,391.37 94.90,392.00 C96.77,392.63 99.42,393.35 101.70,394.30 C103.98,395.25 106.32,396.90 108.60,397.70 C110.88,398.50 114.27,398.87 115.40,399.10" fill="none" stroke="#0173b2" stroke-width="1.4" stroke-linejoin="round" stroke-linecap="round" clip-path="url(#cp2)"/>
<path d="M48.50,399.10 C48.75,398.92 49.12,401.12 50.00,398.00 C50.88,394.88 52.85,386.48 53.80,380.40 C54.75,374.32 55.07,367.80 55.70,361.50 C56.33,355.20 56.78,347.62 57.60,342.60 C58.42,337.58 59.80,334.02 60.60,331.40 C61.40,328.78 61.95,326.97 62.40,326.90 C62.85,326.83 63.02,328.32 63.30,331.00 C63.58,333.68 63.70,336.87 64.10,343.00 C64.50,349.13 65.12,360.52 65.70,367.80 C66.28,375.08 66.85,382.08 67.60,386.70 C68.35,391.32 69.15,393.52 70.20,395.50 C71.25,397.48 72.83,398.00 73.90,398.60 C74.97,399.20 76.15,399.02 76.60,399.10" fill="none" stroke="#029e73" stroke-width="1.4" stroke-linejoin="round" stroke-linecap="round" clip-path="url(#cp2)"/>
<polyline points="51.40,399.10 52.50,392.00 54.00,360.00 55.00,342.00 55.70,340.00 56.40,348.00 56.90,359.00 57.40,350.00 58.00,320.00 58.40,260.00 60.60,260.00 61.20,320.00 62.00,355.00 63.20,367.80 64.50,389.20 65.10,388.00 65.70,386.70 66.40,396.80 67.20,399.10" fill="none" stroke="#d55e00" stroke-width="1.4" stroke-linejoin="round" clip-path="url(#cp2)"/>
<polyline points="65.10,399.10 66.30,380.00 67.20,330.00 67.80,260.00 70.20,260.00 70.70,330.00 71.20,375.00 72.00,381.70 73.80,379.40 75.00,358.00 75.40,354.30 75.90,358.00 76.60,372.60 77.70,393.10 78.90,399.10" fill="none" stroke="#d473b0" stroke-width="1.4" stroke-linejoin="round" clip-path="url(#cp2)"/>
<polygon points="67.50,272.00 70.40,272.00 70.80,340.00 71.20,375.00 66.60,375.00 67.20,340.00" fill="#d473b0" fill-opacity="0.3" clip-path="url(#cp2)"/>
<text x="34.00" y="284.30" font-size="10.2" text-anchor="start" fill="#000000" font-weight="bold" stroke="#000000" stroke-width="0.3" textLength="33.80" lengthAdjust="spacingAndGlyphs">C. Soil</text>
<rect x="298.5" y="346.10" width="45.3" height="47.4" rx="1.5" fill="#e6e6e6" fill-opacity="0.85" stroke="#ededed" stroke-width="0.7"/>
<line x1="301.5" x2="318.3" y1="352.40" y2="352.40" stroke="#0173b2" stroke-width="1.4"/>
<text x="324.20" y="355.30" font-size="8.2" text-anchor="start" fill="#333333" font-weight="normal" stroke="#333333" stroke-width="0.2" textLength="15.00" lengthAdjust="spacingAndGlyphs">PC1</text>
<line x1="301.5" x2="318.3" y1="363.70" y2="363.70" stroke="#029e73" stroke-width="1.4"/>
<text x="324.20" y="366.60" font-size="8.2" text-anchor="start" fill="#333333" font-weight="normal" stroke="#333333" stroke-width="0.2" textLength="15.00" lengthAdjust="spacingAndGlyphs">PC2</text>
<line x1="301.5" x2="318.3" y1="375.00" y2="375.00" stroke="#d55e00" stroke-width="1.4"/>
<text x="324.20" y="377.90" font-size="8.2" text-anchor="start" fill="#333333" font-weight="normal" stroke="#333333" stroke-width="0.2" textLength="15.00" lengthAdjust="spacingAndGlyphs">PC3</text>
<line x1="301.5" x2="318.3" y1="386.30" y2="386.30" stroke="#d473b0" stroke-width="1.4"/>
<text x="324.20" y="389.20" font-size="8.2" text-anchor="start" fill="#333333" font-weight="normal" stroke="#333333" stroke-width="0.2" textLength="8.20" lengthAdjust="spacingAndGlyphs">L*</text>
<rect x="163.10" y="288.20" width="60.10" height="32.20" fill="#000000"/>
<rect x="228.90" y="288.20" width="88.00" height="32.20" fill="#000000"/>
<path d="M164.00,321.40 C165.50,321.40 171.03,324.07 173.00,321.40 C174.97,318.73 174.78,310.78 175.80,305.40 C176.82,300.02 177.87,288.78 179.10,289.10 C180.33,289.42 181.73,302.17 183.20,307.30 C184.67,312.43 186.45,319.03 187.90,319.90 C189.35,320.77 190.52,312.25 191.90,312.50 C193.28,312.75 191.02,319.92 196.20,321.40 C201.38,322.88 218.53,321.40 223.00,321.40" fill="none" stroke="#ece133" stroke-width="1.4" stroke-linejoin="round" stroke-linecap="round" clip-path="url(#ims2)"/>
<polyline points="229.00,321.40 249.40,321.40 252.90,319.30 256.30,320.00 260.60,319.50 264.00,316.40 267.40,319.30 270.00,310.40 271.70,296.70 274.00,289.00 276.00,295.00 278.60,300.10 282.00,308.70 285.40,319.90 286.50,321.40 317.00,321.40" fill="none" stroke="#ece133" stroke-width="1.4" stroke-linejoin="round" clip-path="url(#ict2)"/>
<rect x="162.50" y="287.60" width="61.30" height="33.40" fill="none" stroke="#ffffff" stroke-width="1.2"/>
<rect x="228.30" y="287.60" width="89.20" height="33.40" fill="none" stroke="#ffffff" stroke-width="1.2"/>
<text x="193.40" y="282.90" font-size="11.4" text-anchor="middle" fill="#262626" font-weight="normal" stroke="#262626" stroke-width="0.2" textLength="16.20" lengthAdjust="spacingAndGlyphs">MS</text>
<text x="272.90" y="282.90" font-size="11.4" text-anchor="middle" fill="#262626" font-weight="normal" stroke="#262626" stroke-width="0.2" textLength="14.10" lengthAdjust="spacingAndGlyphs">CT</text>
<line x1="159.8" x2="161.8" y1="294.20" y2="294.20" stroke="#555555" stroke-width="0.8"/>
<text x="156.80" y="297.10" font-size="8.4" text-anchor="end" fill="#555555" font-weight="normal" stroke="#555555" stroke-width="0.3" textLength="17.57" lengthAdjust="spacingAndGlyphs">0.02</text>
<line x1="159.8" x2="161.8" y1="321.00" y2="321.00" stroke="#555555" stroke-width="0.8"/>
<text x="156.80" y="323.90" font-size="8.4" text-anchor="end" fill="#555555" font-weight="normal" stroke="#555555" stroke-width="0.3" textLength="17.57" lengthAdjust="spacingAndGlyphs">0.00</text>
<line x1="318.6" x2="320.6" y1="293.30" y2="293.30" stroke="#555555" stroke-width="0.8"/>
<text x="323.50" y="296.20" font-size="8.4" text-anchor="start" fill="#555555" font-weight="normal" stroke="#555555" stroke-width="0.3" textLength="22.59" lengthAdjust="spacingAndGlyphs">0.005</text>
<line x1="318.6" x2="320.6" y1="321.00" y2="321.00" stroke="#555555" stroke-width="0.8"/>
<text x="323.50" y="323.90" font-size="8.4" text-anchor="start" fill="#555555" font-weight="normal" stroke="#555555" stroke-width="0.3" textLength="22.59" lengthAdjust="spacingAndGlyphs">0.000</text>
<line x1="170.40" x2="170.40" y1="321.80" y2="323.50" stroke="#555555" stroke-width="0.7"/>
<text x="170.40" y="332.10" font-size="6.6" text-anchor="middle" fill="#555555" font-weight="normal" stroke="#555555" stroke-width="0.2" textLength="3.94" lengthAdjust="spacingAndGlyphs">0</text>
<line x1="193.50" x2="193.50" y1="321.80" y2="323.50" stroke="#555555" stroke-width="0.7"/>
<text x="193.50" y="332.10" font-size="6.6" text-anchor="middle" fill="#555555" font-weight="normal" stroke="#555555" stroke-width="0.2" textLength="11.82" lengthAdjust="spacingAndGlyphs">150</text>
<line x1="216.60" x2="216.60" y1="321.80" y2="323.50" stroke="#555555" stroke-width="0.7"/>
<text x="216.60" y="332.10" font-size="6.6" text-anchor="middle" fill="#555555" font-weight="normal" stroke="#555555" stroke-width="0.2" textLength="11.82" lengthAdjust="spacingAndGlyphs">300</text>
<line x1="254.20" x2="254.20" y1="321.80" y2="323.50" stroke="#555555" stroke-width="0.7"/>
<text x="254.20" y="332.10" font-size="6.6" text-anchor="middle" fill="#555555" font-weight="normal" stroke="#555555" stroke-width="0.2" textLength="11.82" lengthAdjust="spacingAndGlyphs">500</text>
<line x1="282.80" x2="282.80" y1="321.80" y2="323.50" stroke="#555555" stroke-width="0.7"/>
<text x="282.80" y="332.10" font-size="6.6" text-anchor="middle" fill="#555555" font-weight="normal" stroke="#555555" stroke-width="0.2" textLength="15.76" lengthAdjust="spacingAndGlyphs">1000</text>
<line x1="311.40" x2="311.40" y1="321.80" y2="323.50" stroke="#555555" stroke-width="0.7"/>
<text x="311.40" y="332.10" font-size="6.6" text-anchor="middle" fill="#555555" font-weight="normal" stroke="#555555" stroke-width="0.2" textLength="15.76" lengthAdjust="spacingAndGlyphs">1500</text>
<rect x="30.5" y="406.90" width="315.70" height="127.2" fill="#e5e5e5"/>
<line x1="30.5" x2="346.2" y1="512.90" y2="512.90" stroke="#fafafa" stroke-width="0.9"/>
<line x1="30.5" x2="346.2" y1="491.70" y2="491.70" stroke="#fafafa" stroke-width="0.9"/>
<line x1="30.5" x2="346.2" y1="470.50" y2="470.50" stroke="#fafafa" stroke-width="0.9"/>
<line x1="30.5" x2="346.2" y1="449.30" y2="449.30" stroke="#fafafa" stroke-width="0.9"/>
<line x1="30.5" x2="346.2" y1="428.10" y2="428.10" stroke="#fafafa" stroke-width="0.9"/>
<line x1="65.60" x2="65.60" y1="406.90" y2="534.10" stroke="#fafafa" stroke-width="0.9"/>
<line x1="100.67" x2="100.67" y1="406.90" y2="534.10" stroke="#fafafa" stroke-width="0.9"/>
<line x1="135.75" x2="135.75" y1="406.90" y2="534.10" stroke="#fafafa" stroke-width="0.9"/>
<line x1="170.82" x2="170.82" y1="406.90" y2="534.10" stroke="#fafafa" stroke-width="0.9"/>
<line x1="205.90" x2="205.90" y1="406.90" y2="534.10" stroke="#fafafa" stroke-width="0.9"/>
<line x1="240.97" x2="240.97" y1="406.90" y2="534.10" stroke="#fafafa" stroke-width="0.9"/>
<line x1="276.05" x2="276.05" y1="406.90" y2="534.10" stroke="#fafafa" stroke-width="0.9"/>
<line x1="311.12" x2="311.12" y1="406.90" y2="534.10" stroke="#fafafa" stroke-width="0.9"/>
<line x1="27.6" x2="30.0" y1="534.10" y2="534.10" stroke="#666666" stroke-width="0.8"/>
<text x="25.00" y="537.00" font-size="8.4" text-anchor="end" fill="#555555" font-weight="normal" stroke="#555555" stroke-width="0.3" textLength="12.56" lengthAdjust="spacingAndGlyphs">0.0</text>
<line x1="27.6" x2="30.0" y1="512.90" y2="512.90" stroke="#666666" stroke-width="0.8"/>
<text x="25.00" y="515.80" font-size="8.4" text-anchor="end" fill="#555555" font-weight="normal" stroke="#555555" stroke-width="0.3" textLength="12.56" lengthAdjust="spacingAndGlyphs">0.2</text>
<line x1="27.6" x2="30.0" y1="491.70" y2="491.70" stroke="#666666" stroke-width="0.8"/>
<text x="25.00" y="494.60" font-size="8.4" text-anchor="end" fill="#555555" font-weight="normal" stroke="#555555" stroke-width="0.3" textLength="12.56" lengthAdjust="spacingAndGlyphs">0.4</text>
<line x1="27.6" x2="30.0" y1="470.50" y2="470.50" stroke="#666666" stroke-width="0.8"/>
<text x="25.00" y="473.40" font-size="8.4" text-anchor="end" fill="#555555" font-weight="normal" stroke="#555555" stroke-width="0.3" textLength="12.56" lengthAdjust="spacingAndGlyphs">0.6</text>
<line x1="27.6" x2="30.0" y1="449.30" y2="449.30" stroke="#666666" stroke-width="0.8"/>
<text x="25.00" y="452.20" font-size="8.4" text-anchor="end" fill="#555555" font-weight="normal" stroke="#555555" stroke-width="0.3" textLength="12.56" lengthAdjust="spacingAndGlyphs">0.8</text>
<line x1="27.6" x2="30.0" y1="428.10" y2="428.10" stroke="#666666" stroke-width="0.8"/>
<text x="25.00" y="431.00" font-size="8.4" text-anchor="end" fill="#555555" font-weight="normal" stroke="#555555" stroke-width="0.3" textLength="12.56" lengthAdjust="spacingAndGlyphs">1.0</text>
<line x1="27.6" x2="30.0" y1="406.90" y2="406.90" stroke="#666666" stroke-width="0.8"/>
<text x="25.00" y="409.80" font-size="8.4" text-anchor="end" fill="#555555" font-weight="normal" stroke="#555555" stroke-width="0.3" textLength="12.56" lengthAdjust="spacingAndGlyphs">1.2</text>
<line x1="30.52" x2="30.52" y1="534.90" y2="537.10" stroke="#888888" stroke-width="0.8"/>
<line x1="65.60" x2="65.60" y1="534.90" y2="537.10" stroke="#888888" stroke-width="0.8"/>
<line x1="100.67" x2="100.67" y1="534.90" y2="537.10" stroke="#888888" stroke-width="0.8"/>
<line x1="135.75" x2="135.75" y1="534.90" y2="537.10" stroke="#888888" stroke-width="0.8"/>
<line x1="170.82" x2="170.82" y1="534.90" y2="537.10" stroke="#888888" stroke-width="0.8"/>
<line x1="205.90" x2="205.90" y1="534.90" y2="537.10" stroke="#888888" stroke-width="0.8"/>
<line x1="240.97" x2="240.97" y1="534.90" y2="537.10" stroke="#888888" stroke-width="0.8"/>
<line x1="276.05" x2="276.05" y1="534.90" y2="537.10" stroke="#888888" stroke-width="0.8"/>
<line x1="311.12" x2="311.12" y1="534.90" y2="537.10" stroke="#888888" stroke-width="0.8"/>
<line x1="346.20" x2="346.20" y1="534.90" y2="537.10" stroke="#888888" stroke-width="0.8"/>
<text x="0" y="0" font-size="11" text-anchor="middle" fill="#444444" stroke="#444444" stroke-width="0.35" transform="translate(7.7,470.90) rotate(-90)" textLength="76.8" lengthAdjust="spacingAndGlyphs">Density function</text>
<polygon points="69.50,533.80 69.60,505.00 70.10,517.00 70.60,521.00 71.40,523.40 72.70,527.50 74.40,529.70 76.60,530.50 79.10,530.50 80.90,528.90 83.00,529.30 85.10,530.50 90.30,531.80 98.00,532.20 105.00,532.00 110.00,531.80 115.00,531.20 119.00,529.00 121.50,525.00 122.50,520.50 123.20,533.80" fill="#d473b0" fill-opacity="0.85" stroke="#d473b0" stroke-width="0.6" clip-path="url(#cp3)"/>
<polygon points="66.10,533.80 66.10,400.00 69.70,400.00 69.70,533.80" fill="#d473b0" fill-opacity="0.55" clip-path="url(#cp3)"/>
<polyline points="66.50,533.80 66.50,400.00" fill="none" stroke="#d473b0" stroke-width="1.2" stroke-linejoin="round" clip-path="url(#cp3)"/>
<polyline points="69.30,533.80 69.30,400.00" fill="none" stroke="#d473b0" stroke-width="1.2" stroke-linejoin="round" clip-path="url(#cp3)"/>
<path d="M40.00,533.50 C41.08,533.48 45.02,534.13 46.50,533.40 C47.98,532.67 48.23,532.23 48.90,529.10 C49.57,525.97 49.97,521.07 50.50,514.60 C51.03,508.13 51.55,498.40 52.10,490.30 C52.65,482.20 53.25,472.07 53.80,466.00 C54.35,459.93 55.00,456.18 55.40,453.90 C55.80,451.62 55.85,452.17 56.20,452.30 C56.55,452.43 57.10,452.42 57.50,454.70 C57.90,456.98 58.15,460.60 58.60,466.00 C59.05,471.40 59.67,480.35 60.20,487.10 C60.73,493.85 61.12,500.85 61.80,506.50 C62.48,512.15 63.48,517.23 64.30,521.00 C65.12,524.77 65.90,527.07 66.70,529.10 C67.50,531.13 68.22,532.47 69.10,533.20 C69.98,533.93 71.52,533.45 72.00,533.50" fill="none" stroke="#d55e00" stroke-width="1.4" stroke-linejoin="round" stroke-linecap="round" clip-path="url(#cp3)"/>
<path d="M40.00,533.60 C41.35,533.58 45.95,533.70 48.10,533.50 C50.25,533.30 51.28,532.85 52.90,532.40 C54.52,531.95 56.17,531.88 57.80,530.80 C59.43,529.72 61.48,527.25 62.70,525.90 C63.92,524.55 64.30,526.75 65.10,522.70 C65.90,518.65 66.70,508.62 67.50,501.60 C68.30,494.58 69.22,484.77 69.90,480.60 C70.58,476.43 70.92,477.95 71.60,476.60 C72.28,475.25 73.28,472.37 74.00,472.50 C74.72,472.63 75.23,473.08 75.90,477.40 C76.57,481.72 77.32,492.20 78.00,498.40 C78.68,504.60 79.48,511.35 80.00,514.60 C80.52,517.85 80.48,515.78 81.10,517.90 C81.72,520.02 82.83,525.02 83.70,527.30 C84.57,529.58 85.30,530.60 86.30,531.60 C87.30,532.60 88.58,532.98 89.70,533.30 C90.82,533.62 92.45,533.47 93.00,533.50" fill="none" stroke="#029e73" stroke-width="1.4" stroke-linejoin="round" stroke-linecap="round" clip-path="url(#cp3)"/>
<path d="M85.70,533.40 C86.85,533.07 90.15,531.82 92.60,531.40 C95.05,530.98 98.65,531.33 100.40,530.90 C102.15,530.47 102.20,530.27 103.10,528.80 C104.00,527.33 104.90,525.70 105.80,522.10 C106.70,518.50 107.72,512.38 108.50,507.20 C109.28,502.02 109.87,495.95 110.50,491.00 C111.13,486.05 111.68,480.47 112.30,477.50 C112.92,474.53 113.60,473.20 114.20,473.20 C114.80,473.20 115.28,474.30 115.90,477.50 C116.52,480.70 117.22,487.45 117.90,492.40 C118.58,497.35 119.32,502.93 120.00,507.20 C120.68,511.47 121.22,514.85 122.00,518.00 C122.78,521.15 123.58,524.07 124.70,526.10 C125.82,528.13 126.98,528.98 128.70,530.20 C130.42,531.42 133.95,532.87 135.00,533.40" fill="none" stroke="#0173b2" stroke-width="1.4" stroke-linejoin="round" stroke-linecap="round" clip-path="url(#cp3)"/>
<text x="34.00" y="418.70" font-size="10.2" text-anchor="start" fill="#000000" font-weight="bold" stroke="#000000" stroke-width="0.3" textLength="39.20" lengthAdjust="spacingAndGlyphs">D. Peat</text>
<rect x="298.5" y="480.90" width="45.3" height="47.4" rx="1.5" fill="#e6e6e6" fill-opacity="0.85" stroke="#ededed" stroke-width="0.7"/>
<line x1="301.5" x2="318.3" y1="487.20" y2="487.20" stroke="#0173b2" stroke-width="1.4"/>
<text x="324.20" y="490.10" font-size="8.2" text-anchor="start" fill="#333333" font-weight="normal" stroke="#333333" stroke-width="0.2" textLength="15.00" lengthAdjust="spacingAndGlyphs">PC1</text>
<line x1="301.5" x2="318.3" y1="498.50" y2="498.50" stroke="#029e73" stroke-width="1.4"/>
<text x="324.20" y="501.40" font-size="8.2" text-anchor="start" fill="#333333" font-weight="normal" stroke="#333333" stroke-width="0.2" textLength="15.00" lengthAdjust="spacingAndGlyphs">PC2</text>
<line x1="301.5" x2="318.3" y1="509.80" y2="509.80" stroke="#d55e00" stroke-width="1.4"/>
<text x="324.20" y="512.70" font-size="8.2" text-anchor="start" fill="#333333" font-weight="normal" stroke="#333333" stroke-width="0.2" textLength="15.00" lengthAdjust="spacingAndGlyphs">PC3</text>
<line x1="301.5" x2="318.3" y1="521.10" y2="521.10" stroke="#d473b0" stroke-width="1.4"/>
<text x="324.20" y="524.00" font-size="8.2" text-anchor="start" fill="#333333" font-weight="normal" stroke="#333333" stroke-width="0.2" textLength="8.20" lengthAdjust="spacingAndGlyphs">L*</text>
<rect x="163.10" y="422.60" width="60.10" height="32.10" fill="#000000"/>
<rect x="228.90" y="422.60" width="88.00" height="32.10" fill="#000000"/>
<path d="M164.00,455.70 C164.57,455.70 166.63,457.65 167.40,455.70 C168.17,453.75 168.25,448.45 168.60,444.00 C168.95,439.55 169.20,432.47 169.50,429.00 C169.80,425.53 170.10,423.20 170.40,423.20 C170.70,423.20 170.97,426.20 171.30,429.00 C171.63,431.80 172.08,436.75 172.40,440.00 C172.72,443.25 172.85,446.67 173.20,448.50 C173.55,450.33 174.12,450.48 174.50,451.00 C174.88,451.52 175.08,451.38 175.50,451.60 C175.92,451.82 176.53,452.37 177.00,452.30 C177.47,452.23 177.80,451.03 178.30,451.20 C178.80,451.37 179.38,452.92 180.00,453.30 C180.62,453.68 181.37,453.67 182.00,453.50 C182.63,453.33 183.22,452.30 183.80,452.30 C184.38,452.30 184.97,453.65 185.50,453.50 C186.03,453.35 186.42,451.32 187.00,451.40 C187.58,451.48 187.50,453.28 189.00,454.00 C190.50,454.72 194.58,455.90 196.00,455.70 C197.42,455.50 197.00,452.80 197.50,452.80 C198.00,452.80 196.42,455.22 199.00,455.70 C201.58,456.18 210.37,456.17 213.00,455.70 C215.63,455.23 214.22,452.90 214.80,452.90 C215.38,452.90 215.13,455.23 216.50,455.70 C217.87,456.17 221.92,455.70 223.00,455.70" fill="none" stroke="#ece133" stroke-width="1.4" stroke-linejoin="round" stroke-linecap="round" clip-path="url(#ims3)"/>
<polyline points="229.00,455.70 231.30,455.70 232.30,446.00 233.10,431.00 233.70,422.90 234.30,431.00 235.10,446.00 236.00,452.30 238.00,453.40 242.00,453.80 250.00,454.00 262.00,453.80 275.00,454.20 290.00,455.70 317.00,455.70" fill="none" stroke="#ece133" stroke-width="1.4" stroke-linejoin="round" clip-path="url(#ict3)"/>
<rect x="162.50" y="422.00" width="61.30" height="33.30" fill="none" stroke="#ffffff" stroke-width="1.2"/>
<rect x="228.30" y="422.00" width="89.20" height="33.30" fill="none" stroke="#ffffff" stroke-width="1.2"/>
<text x="193.40" y="417.30" font-size="11.4" text-anchor="middle" fill="#262626" font-weight="normal" stroke="#262626" stroke-width="0.2" textLength="16.20" lengthAdjust="spacingAndGlyphs">MS</text>
<text x="272.90" y="417.30" font-size="11.4" text-anchor="middle" fill="#262626" font-weight="normal" stroke="#262626" stroke-width="0.2" textLength="14.10" lengthAdjust="spacingAndGlyphs">CT</text>
<line x1="159.8" x2="161.8" y1="437.80" y2="437.80" stroke="#555555" stroke-width="0.8"/>
<text x="156.80" y="440.70" font-size="8.4" text-anchor="end" fill="#555555" font-weight="normal" stroke="#555555" stroke-width="0.3" textLength="22.59" lengthAdjust="spacingAndGlyphs">0.025</text>
<line x1="159.8" x2="161.8" y1="455.30" y2="455.30" stroke="#555555" stroke-width="0.8"/>
<text x="156.80" y="458.20" font-size="8.4" text-anchor="end" fill="#555555" font-weight="normal" stroke="#555555" stroke-width="0.3" textLength="22.59" lengthAdjust="spacingAndGlyphs">0.000</text>
<line x1="318.6" x2="320.6" y1="433.50" y2="433.50" stroke="#555555" stroke-width="0.8"/>
<text x="323.50" y="436.40" font-size="8.4" text-anchor="start" fill="#555555" font-weight="normal" stroke="#555555" stroke-width="0.3" textLength="17.57" lengthAdjust="spacingAndGlyphs">0.02</text>
<line x1="318.6" x2="320.6" y1="455.30" y2="455.30" stroke="#555555" stroke-width="0.8"/>
<text x="323.50" y="458.20" font-size="8.4" text-anchor="start" fill="#555555" font-weight="normal" stroke="#555555" stroke-width="0.3" textLength="17.57" lengthAdjust="spacingAndGlyphs">0.00</text>
<line x1="170.40" x2="170.40" y1="456.10" y2="457.80" stroke="#555555" stroke-width="0.7"/>
<text x="170.40" y="466.40" font-size="6.6" text-anchor="middle" fill="#555555" font-weight="normal" stroke="#555555" stroke-width="0.2" textLength="3.94" lengthAdjust="spacingAndGlyphs">0</text>
<line x1="193.50" x2="193.50" y1="456.10" y2="457.80" stroke="#555555" stroke-width="0.7"/>
<text x="193.50" y="466.40" font-size="6.6" text-anchor="middle" fill="#555555" font-weight="normal" stroke="#555555" stroke-width="0.2" textLength="11.82" lengthAdjust="spacingAndGlyphs">150</text>
<line x1="216.60" x2="216.60" y1="456.10" y2="457.80" stroke="#555555" stroke-width="0.7"/>
<text x="216.60" y="466.40" font-size="6.6" text-anchor="middle" fill="#555555" font-weight="normal" stroke="#555555" stroke-width="0.2" textLength="11.82" lengthAdjust="spacingAndGlyphs">300</text>
<line x1="254.20" x2="254.20" y1="456.10" y2="457.80" stroke="#555555" stroke-width="0.7"/>
<text x="254.20" y="466.40" font-size="6.6" text-anchor="middle" fill="#555555" font-weight="normal" stroke="#555555" stroke-width="0.2" textLength="11.82" lengthAdjust="spacingAndGlyphs">500</text>
<line x1="282.80" x2="282.80" y1="456.10" y2="457.80" stroke="#555555" stroke-width="0.7"/>
<text x="282.80" y="466.40" font-size="6.6" text-anchor="middle" fill="#555555" font-weight="normal" stroke="#555555" stroke-width="0.2" textLength="15.76" lengthAdjust="spacingAndGlyphs">1000</text>
<line x1="311.40" x2="311.40" y1="456.10" y2="457.80" stroke="#555555" stroke-width="0.7"/>
<text x="311.40" y="466.40" font-size="6.6" text-anchor="middle" fill="#555555" font-weight="normal" stroke="#555555" stroke-width="0.2" textLength="15.76" lengthAdjust="spacingAndGlyphs">1500</text>
<line x1="99.00" y1="285.80" x2="77.16" y2="276.73" stroke="#555555" stroke-width="0.9"/>
<polygon points="73.00,275.00 77.92,274.88 76.39,278.57" fill="#555555"/>
<line x1="99.00" y1="306.00" x2="65.43" y2="277.51" stroke="#555555" stroke-width="0.9"/>
<polygon points="62.00,274.60 66.73,275.99 64.14,279.04" fill="#555555"/>
<rect x="101.40" y="283.00" width="12.2" height="10.2" fill="#ececec" stroke="#666666" stroke-width="0.9"/>
<text x="107.50" y="290.80" font-size="7.6" text-anchor="middle" fill="#707070" font-weight="normal" stroke="#707070" stroke-width="0.3" textLength="9.60" lengthAdjust="spacingAndGlyphs">2.1</text>
<rect x="101.40" y="303.65" width="12.2" height="10.2" fill="#ececec" stroke="#666666" stroke-width="0.9"/>
<text x="107.50" y="311.45" font-size="7.6" text-anchor="middle" fill="#707070" font-weight="normal" stroke="#707070" stroke-width="0.3" textLength="9.60" lengthAdjust="spacingAndGlyphs">1.3</text>
<line x1="99.90" y1="420.20" x2="77.51" y2="411.70" stroke="#555555" stroke-width="0.9"/>
<polygon points="73.30,410.10 78.22,409.83 76.80,413.57" fill="#555555"/>
<rect x="101.40" y="417.35" width="12.2" height="10.2" fill="#ececec" stroke="#666666" stroke-width="0.9"/>
<text x="107.50" y="425.15" font-size="7.6" text-anchor="middle" fill="#707070" font-weight="normal" stroke="#707070" stroke-width="0.3" textLength="9.60" lengthAdjust="spacingAndGlyphs">2.8</text>
<text x="28.32" y="544.70" font-size="6.7" text-anchor="middle" fill="#555555" font-weight="normal" stroke="#555555" stroke-width="0.2" textLength="9.30" lengthAdjust="spacingAndGlyphs">−5</text>
<text x="65.60" y="544.70" font-size="6.7" text-anchor="middle" fill="#555555" font-weight="normal" stroke="#555555" stroke-width="0.2" textLength="4.00" lengthAdjust="spacingAndGlyphs">0</text>
<text x="100.67" y="544.70" font-size="6.7" text-anchor="middle" fill="#555555" font-weight="normal" stroke="#555555" stroke-width="0.2" textLength="4.00" lengthAdjust="spacingAndGlyphs">5</text>
<text x="135.75" y="544.70" font-size="6.7" text-anchor="middle" fill="#555555" font-weight="normal" stroke="#555555" stroke-width="0.2" textLength="8.00" lengthAdjust="spacingAndGlyphs">10</text>
<text x="170.82" y="544.70" font-size="6.7" text-anchor="middle" fill="#555555" font-weight="normal" stroke="#555555" stroke-width="0.2" textLength="8.00" lengthAdjust="spacingAndGlyphs">15</text>
<text x="205.90" y="544.70" font-size="6.7" text-anchor="middle" fill="#555555" font-weight="normal" stroke="#555555" stroke-width="0.2" textLength="8.00" lengthAdjust="spacingAndGlyphs">20</text>
<text x="240.97" y="544.70" font-size="6.7" text-anchor="middle" fill="#555555" font-weight="normal" stroke="#555555" stroke-width="0.2" textLength="8.00" lengthAdjust="spacingAndGlyphs">25</text>
<text x="276.05" y="544.70" font-size="6.7" text-anchor="middle" fill="#555555" font-weight="normal" stroke="#555555" stroke-width="0.2" textLength="8.00" lengthAdjust="spacingAndGlyphs">30</text>
<text x="311.12" y="544.70" font-size="6.7" text-anchor="middle" fill="#555555" font-weight="normal" stroke="#555555" stroke-width="0.2" textLength="8.00" lengthAdjust="spacingAndGlyphs">35</text>
<text x="346.20" y="544.70" font-size="6.7" text-anchor="middle" fill="#555555" font-weight="normal" stroke="#555555" stroke-width="0.2" textLength="8.00" lengthAdjust="spacingAndGlyphs">40</text>
<text x="174.90" y="553.70" font-size="9.3" text-anchor="middle" fill="#404040" font-weight="normal" stroke="#404040" stroke-width="0.3" textLength="123.00" lengthAdjust="spacingAndGlyphs">Scanning values (multiple units)</text>
</svg></body></html>
